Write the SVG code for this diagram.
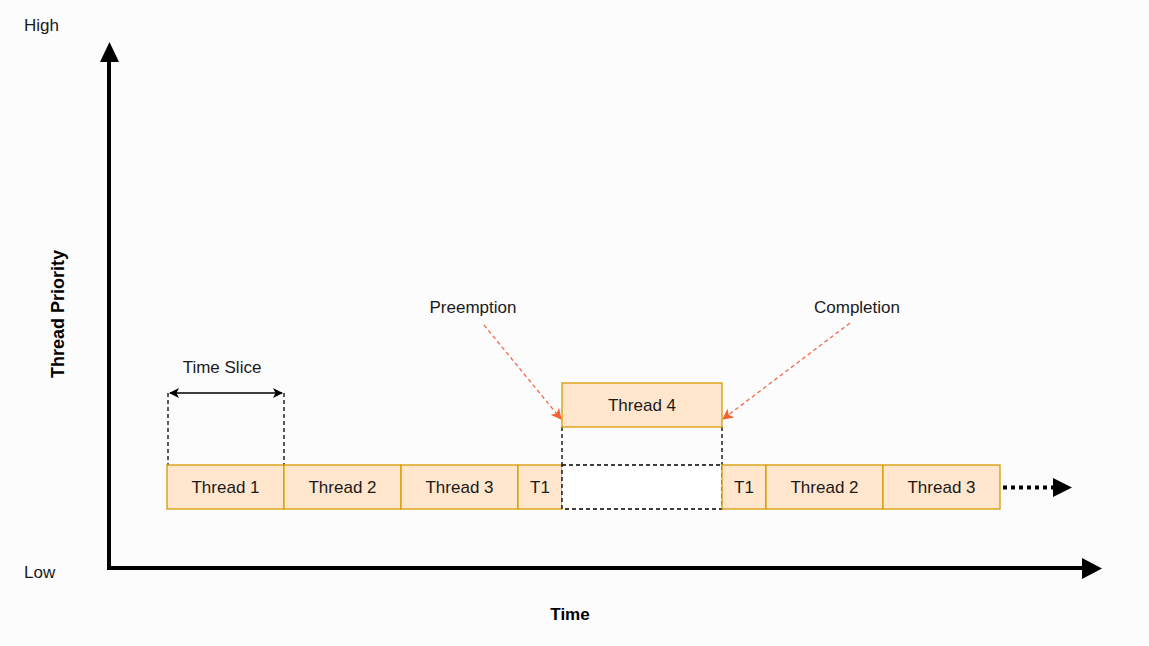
<svg xmlns="http://www.w3.org/2000/svg" width="1149" height="646" viewBox="0 0 1149 646">
<defs>
<style>
text{font-family:"Liberation Sans",Arial,sans-serif;font-size:17px;fill:#1a1a1a}
.c{text-anchor:middle}
.b{font-weight:bold;fill:#000}
.box{fill:#FFE6CC;stroke:#D79B00;stroke-width:1.3}
.dash{fill:none;stroke:#000;stroke-width:1.3;stroke-dasharray:4 3}
.axis{stroke:#000;stroke-width:4;fill:none}
.red{stroke:#F25A3A;stroke-width:1.3;stroke-dasharray:4 3;fill:none;opacity:0.9}
</style>
<marker id="ah" viewBox="0 0 10 10" refX="9" refY="5" markerWidth="10" markerHeight="10" markerUnits="userSpaceOnUse" orient="auto-start-reverse"><path d="M0,0 L10,5 L0,10 L2.5,5 Z" fill="#000"/></marker>
<marker id="rh" viewBox="0 0 10 10" refX="9" refY="5" markerWidth="11" markerHeight="11" markerUnits="userSpaceOnUse" orient="auto"><path d="M0,0 L10,5 L0,10 L2.5,5 Z" fill="#F4511E"/></marker>
</defs>
<rect width="1149" height="646" fill="#FCFCFC"/>
<g id="axes">
<path class="axis" d="M109,568 V60"/>
<path d="M100,62 L109.5,42 L119,62 Z" fill="#000"/>
<path class="axis" d="M107,568 H1084"/>
<path d="M1082,558 L1102,568.5 L1082,579 Z" fill="#000"/>
<text x="24" y="31">High</text>
<text x="24" y="578">Low</text>
<text class="b c" x="570" y="620">Time</text>
<text class="b c" style="font-size:18px" transform="translate(64,314) rotate(-90)">Thread Priority</text>
</g>
<g id="connectors">
<path class="dash" d="M168,393 V465 M284,393 V465 M562,427 V465 M722,427 V465"/>
<line x1="170" y1="393" x2="282" y2="393" stroke="#000" stroke-width="1.5" marker-start="url(#ah)" marker-end="url(#ah)"/>
<path d="M1003,487.5 H1056" stroke="#000" stroke-width="4" stroke-dasharray="4 4" fill="none"/>
<path d="M1053,478 L1072,487.5 L1053,497 Z" fill="#000"/>
<path class="red" d="M484,325 L561,419" marker-end="url(#rh)"/>
<path class="red" d="M850,323 L723,419" marker-end="url(#rh)"/>
</g>
<g id="timeslice-label"><text class="c" x="222" y="373">Time Slice</text></g>
<g id="preemption-label"><text class="c" x="473" y="313">Preemption</text></g>
<g id="completion-label"><text class="c" x="857" y="313">Completion</text></g>
<g id="thread1"><rect class="box" x="167" y="465" width="117" height="44"/><text class="c" x="225.5" y="493">Thread 1</text></g>
<g id="thread2"><rect class="box" x="284" y="465" width="117" height="44"/><text class="c" x="342.5" y="493">Thread 2</text></g>
<g id="thread3"><rect class="box" x="401" y="465" width="117" height="44"/><text class="c" x="459.5" y="493">Thread 3</text></g>
<g id="t1a"><rect class="box" x="518" y="465" width="44" height="44"/><text class="c" x="540" y="493">T1</text></g>
<g id="gap"><rect x="562" y="465" width="160" height="44" fill="#FFFFFF"/><rect class="dash" x="562" y="465" width="160" height="44"/></g>
<g id="thread4"><rect class="box" x="562" y="383" width="160" height="44"/><text class="c" x="642" y="411">Thread 4</text></g>
<g id="t1b"><rect class="box" x="722" y="465" width="44" height="44"/><text class="c" x="744" y="493">T1</text></g>
<g id="thread2b"><rect class="box" x="766" y="465" width="117" height="44"/><text class="c" x="824.5" y="493">Thread 2</text></g>
<g id="thread3b"><rect class="box" x="883" y="465" width="117" height="44"/><text class="c" x="941.5" y="493">Thread 3</text></g>
</svg>
